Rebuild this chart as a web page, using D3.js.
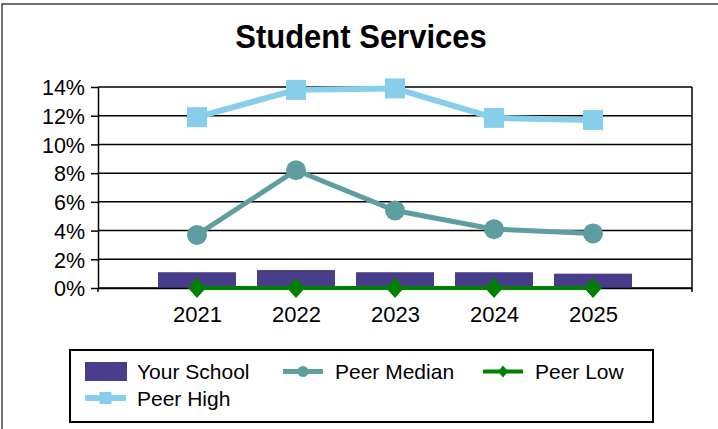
<!DOCTYPE html>
<html><head><meta charset="utf-8">
<script src="https://cdn.jsdelivr.net/npm/d3@7"></script>
<style>
html,body{margin:0;padding:0;background:#fff;}
svg{display:block;font-family:"Liberation Sans",Arial,sans-serif;}
</style></head>
<body>
<svg id="c" width="718" height="429"></svg>
<script>
const title = "Student Services";
const years = ["2021","2022","2023","2024","2025"];
const yourSchool = [1.1, 1.25, 1.1, 1.1, 1.0];
const peerMedian = [3.7, 8.2, 5.4, 4.1, 3.8];
const peerLow = [0, 0, 0, 0, 0];
const peerHigh = [11.9, 13.8, 13.9, 11.85, 11.7];
const yTicks = [0, 2, 4, 6, 8, 10, 12, 14];
const legendItems = ["Your School", "Peer Median", "Peer Low", "Peer High"];

const colors = {bar:"#483D8B", median:"#5F9EA0", low:"#008000", high:"#87CEEB"};

const svg = d3.select("#c");
const L = 98, R = 692, T = 87, B = 288;

// outer frame
svg.append("path").attr("d", `M2,429 L2,4 L718,4`).attr("fill","none")
  .attr("stroke","#444").attr("stroke-width",1.5);

svg.append("text").attr("transform","translate(361,47.5) scale(1,1.1)").attr("text-anchor","middle")
  .attr("font-size", 31).attr("font-weight","bold").text(title);

const x = d3.scalePoint().domain(years).range([L, R]).padding(1);
const y = d3.scaleLinear().domain([0, 14]).range([B, T]);

// gridlines
svg.append("g").selectAll("line").data(yTicks).join("line")
  .attr("x1", L).attr("x2", R).attr("y1", d=>y(d)).attr("y2", d=>y(d))
  .attr("stroke","#000").attr("stroke-width",1.5);
svg.append("line").attr("x1",R).attr("x2",R).attr("y1",T).attr("y2",B+4)
  .attr("stroke","#000").attr("stroke-width",1.5);

// y axis
const ya = svg.append("g").attr("transform",`translate(${L},0)`)
  .call(d3.axisLeft(y).tickValues(yTicks).tickSize(7).tickSizeOuter(0).tickFormat(d=>d+"%"));
ya.select(".domain").attr("stroke","#000").attr("stroke-width",1.5);
ya.selectAll(".tick line").attr("stroke","#000").attr("stroke-width",1.5);
ya.selectAll("text").attr("font-size",21.5).attr("font-family","Liberation Sans, Arial, sans-serif")
  .attr("fill","#000").attr("x",-13).attr("dy","0.36em");

// bars
const bw = 78;
svg.append("g").selectAll("rect").data(years).join("rect")
  .attr("x", d=>x(d)-bw/2).attr("width", bw)
  .attr("y", (d,i)=>y(yourSchool[i])).attr("height",(d,i)=>B-y(yourSchool[i]))
  .attr("fill", colors.bar);

// x axis
const xa = svg.append("g").attr("transform",`translate(0,${B})`)
  .call(d3.axisBottom(x).tickSize(5).tickSizeOuter(0));
xa.select(".domain").attr("stroke","#000").attr("stroke-width",1.5);
xa.selectAll(".tick line").attr("stroke","#000").attr("stroke-width",1.5);
xa.selectAll("text").attr("font-size",22).attr("font-family","Liberation Sans, Arial, sans-serif")
  .attr("fill","#000").attr("y",34).attr("dy",0);
svg.append("line").attr("x1",L).attr("x2",L).attr("y1",B).attr("y2",B+4)
  .attr("stroke","#000").attr("stroke-width",1.5);

const line = d3.line().x((d,i)=>x(years[i])).y(d=>y(d));

// Peer Low
svg.append("path").datum(peerLow).attr("d",line).attr("fill","none")
  .attr("stroke",colors.low).attr("stroke-width",4);
svg.append("g").selectAll("path").data(peerLow).join("path")
  .attr("transform",(d,i)=>`translate(${x(years[i])},${y(d)})`)
  .attr("d","M0,-10 L9,0 L0,10 L-9,0 Z").attr("fill",colors.low);

// Peer Median
svg.append("path").datum(peerMedian).attr("d",line).attr("fill","none")
  .attr("stroke",colors.median).attr("stroke-width",5);
svg.append("g").selectAll("circle").data(peerMedian).join("circle")
  .attr("cx",(d,i)=>x(years[i])).attr("cy",d=>y(d)).attr("r",10).attr("fill",colors.median);

// Peer High
svg.append("path").datum(peerHigh).attr("d",line).attr("fill","none")
  .attr("stroke",colors.high).attr("stroke-width",6);
svg.append("g").selectAll("rect").data(peerHigh).join("rect")
  .attr("x",(d,i)=>x(years[i])-10).attr("y",d=>y(d)-10).attr("width",20).attr("height",20)
  .attr("fill",colors.high);

// legend
svg.append("rect").attr("x",70).attr("y",350).attr("width",583).attr("height",72)
  .attr("fill","#fff").attr("stroke","#000").attr("stroke-width",2);
const pos = [[85,371.5],[283,371.5],[483,371.5],[85,398]];
const lg = svg.append("g").selectAll("g").data(legendItems).join("g")
  .attr("transform",(d,i)=>`translate(${pos[i][0]},${pos[i][1]})`);
lg.append("text").attr("x",52).attr("y",7.5).attr("font-size",21).text(d=>d);
lg.each(function(d,i){
  const g = d3.select(this);
  if(i===0){
    g.append("rect").attr("x",0).attr("y",-9.5).attr("width",42).attr("height",19).attr("fill",colors.bar);
  } else if(i===1){
    g.append("line").attr("x1",0).attr("x2",40).attr("stroke",colors.median).attr("stroke-width",5);
    g.append("circle").attr("cx",20).attr("r",5.5).attr("fill",colors.median);
  } else if(i===2){
    g.append("line").attr("x1",0).attr("x2",40).attr("stroke",colors.low).attr("stroke-width",4);
    g.append("path").attr("transform","translate(20,0)").attr("d","M0,-6 L5,0 L0,6 L-5,0 Z").attr("fill",colors.low);
  } else {
    g.append("line").attr("x1",0).attr("x2",41).attr("stroke",colors.high).attr("stroke-width",6);
    g.append("rect").attr("x",14.5).attr("y",-6).attr("width",12).attr("height",12).attr("fill",colors.high);
  }
});
</script>
</body></html>
